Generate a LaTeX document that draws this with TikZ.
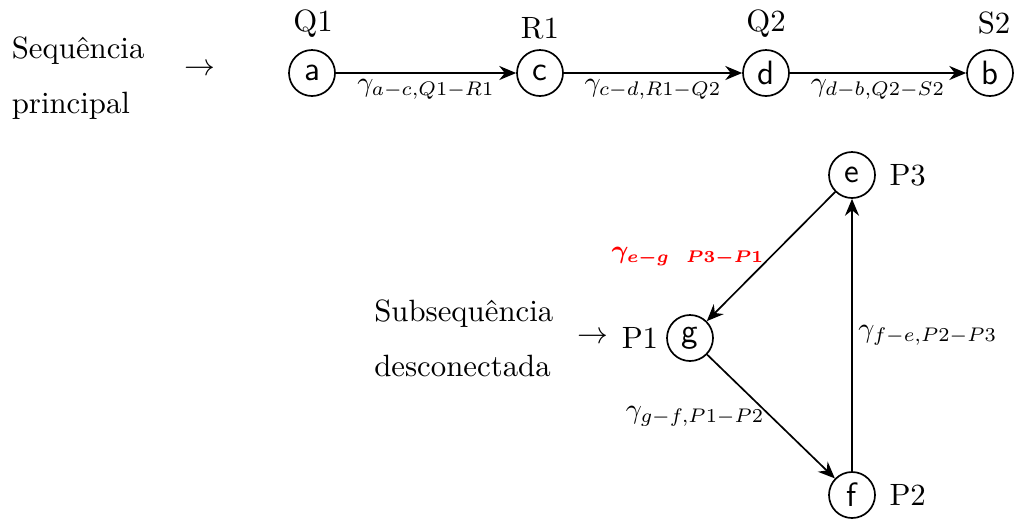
\documentclass[tikz,border=0pt,11pt]{standalone}
\usepackage{amsmath}
\usepackage{bm}
\usepackage{xcolor}
\usetikzlibrary{arrows.meta, positioning}
\tikzset{
  % vertex circle
  vert/.style={
    circle, draw, semithick,
    minimum size=0.575cm, inner sep=0pt,
    font=\sffamily\large
  },
  % arrows
  arr/.style={-{Stealth[length=6pt,width=5pt]}, semithick},
  % edge label
  elabel/.style={font=\small, inner sep=2pt},
  rlabel/.style={elabel, font=\footnotesize, text=red},
}

\begin{document}
\begin{tikzpicture}[x=0.0125cm, y=-0.0125cm]
  \useasboundingbox (0,0) rectangle (1014,519);

  %% Main sequence
  \node[anchor=west, align=left] (seq) at (1,78) {Sequência\\[6pt]principal};
  \node (seqarr) at (200,70) {$\rightarrow$};
  \node[vert] (a) at (312,73) {a};
  \node[vert] (c) at (540,73) {c};
  \node[vert] (d) at (766,73) {d};
  \node[vert] (b) at (990,73) {b};
  \node[anchor=base] (q1) at (313,31) {Q1};
  \node[anchor=base] (r1) at (540,38) {R1};
  \node[anchor=base] (q2) at (766,31) {Q2};
  \node[anchor=base] (s2) at (994,33) {S2};

  \draw[arr] (a) -- (c) node[midway, below, elabel] {$\gamma_{a-c,Q1-R1}$};
  \draw[arr] (c) -- (d) node[midway, below, elabel] {$\gamma_{c-d,R1-Q2}$};
  \draw[arr] (d) -- (b) node[midway, below, elabel] {$\gamma_{d-b,Q2-S2}$};

  %% Disconnected subsequence
  \node[vert] (e) at (852,175) {e};
  \node[vert] (g) at (690,338) {g};
  \node[vert] (f) at (852,495) {f};
  \node[right=1pt of e] (p3) {P3};
  \node[right=1pt of f] (p2) {P2};
  \node[left=-1pt of g] (p1) {P1};
  \node[left=-3pt of p1] (subarr) {$\rightarrow$};
  \node[left=1pt of subarr, align=left] (sub) {Subsequência\\[6pt]desconectada};

  \draw[arr] (e) -- (g) node[midway, left, rlabel] {$\bm{\gamma_{e-g\ \ P3-P1}}$};
  \draw[arr] (g) -- (f) node[midway, left, elabel] {$\gamma_{g-f,P1-P2}$};
  \draw[arr] (f) -- (e) node[midway, right, elabel] {$\gamma_{f-e,P2-P3}$};
\end{tikzpicture}
\end{document}
